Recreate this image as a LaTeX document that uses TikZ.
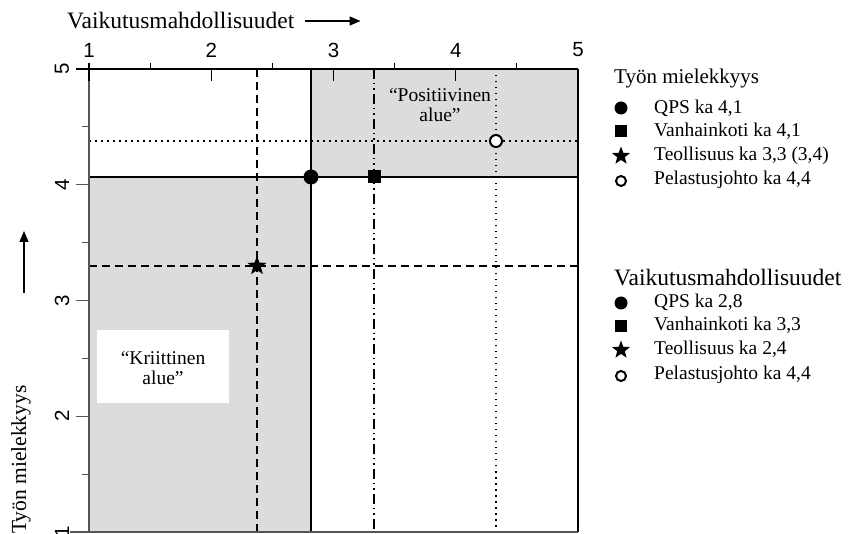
\documentclass[tikz,border=0pt]{standalone}
\usepackage{fontspec}
\setmainfont{Liberation Serif}
\newfontfamily\ticksans{Liberation Sans}
\usetikzlibrary{shapes.geometric,arrows.meta}

\definecolor{zonegray}{HTML}{DCDCDC}
\definecolor{axisgray}{HTML}{555555}

\begin{document}
\begin{tikzpicture}[x=1pt,y=-1pt,
  txt/.style={font=\fontsize{19.5}{22}\selectfont, inner sep=0pt},
  legtxt/.style={txt, anchor=west},
  headtxt/.style={font=\fontsize{21}{22}\selectfont, inner sep=0pt, anchor=west},
  widetxt/.style={font=\fontsize{23.5}{24}\selectfont, inner sep=0pt, anchor=west},
  ticklbl/.style={font=\ticksans\fontsize{20.5}{22}\selectfont, inner sep=0pt},
  gridline/.style={line width=1.3pt, black},
  dashline/.style={line width=1.8pt, dash pattern=on 8pt off 5pt},
  dashdotline/.style={line width=1.5pt, dash pattern=on 10pt off 4pt on 1.5pt off 4pt on 1.5pt off 4pt},
  dotline/.style={line width=1.5pt, dash pattern=on 1.5pt off 4.5pt},
  dotmark/.style={circle, fill=black, inner sep=0pt, minimum size=#1},
  sqmark/.style={rectangle, fill=black, inner sep=0pt, minimum size=#1},
  starmark/.style={star, star points=5, star point ratio=2.4, fill=black, inner sep=0pt, minimum size=#1},
  openmark/.style={circle, draw=black, line width=2pt, fill=white, inner sep=0pt, minimum size=#1},
  axisarrow/.style={line width=1.2pt, -{Triangle[length=11pt,width=9pt]}}
]
\path[use as bounding box] (0,0) rectangle (860,534);

% shaded zones
\fill[zonegray] (311,69) rectangle (578,177);
\fill[zonegray] (89,177) rectangle (311,532);
\fill[white] (97,330) rectangle (229,403);

% reference lines of the averages
\draw[gridline] (89,177) -- (578,177);
\draw[gridline] (311,69) -- (311,532);
\draw[dashline] (257,69) -- (257,532);
\draw[dashline] (89,266) -- (578,266);
\draw[dashdotline] (374,69) -- (374,532);
\draw[dotline] (89,141) -- (578,141);
\draw[dotline] (496,69) -- (496,532);

% frame
\draw[line width=1.3pt] (76,69) -- (578,69);
\draw[line width=1.3pt] (578,69) -- (578,532);
\draw[axisgray, line width=2pt] (89,63) -- (89,532);
\draw[axisgray, line width=2pt] (70,532) -- (578,532);

% top axis ticks
\foreach \v in {1,2,3,4} {
  \pgfmathsetmacro{\px}{89+(\v-1)*122.25}
  \draw[line width=1.3pt] (\px,69) -- (\px,81);
  \pgfmathsetmacro{\mx}{89+(\v-0.5)*122.25}
  \draw[line width=1pt] (\mx,63) -- (\mx,69);
}
\draw[line width=1.3pt] (89,63) -- (89,69);
% left axis ticks
\foreach \v in {2,3,4} {
  \pgfmathsetmacro{\py}{532-(\v-1)*115.75}
  \draw[axisgray, line width=1.3pt] (76,\py) -- (89,\py);
}
\foreach \v in {1,2,3,4} {
  \pgfmathsetmacro{\my}{532-(\v-0.5)*115.75}
  \draw[axisgray, line width=1pt] (82,\my) -- (89,\my);
}

% tick labels
\foreach \v in {1,...,5} {
  \pgfmathsetmacro{\px}{89+(\v-1)*122.25}
  \node[ticklbl] (tx\v) at (\px,50) {\v};
  \pgfmathsetmacro{\py}{532-(\v-1)*115.75}
  \node[ticklbl, rotate=90] (ty\v) at (62,\py) {\v};
}

% axis titles
\node[widetxt] (xtitle) at (67,21) {Vaikutusmahdollisuudet};
\coordinate (xa1) at ([xshift=10pt]xtitle.east);
\coordinate (xa2) at ([xshift=66pt]xtitle.east);
\draw[axisarrow] (xa1) -- (xa2);
\node[headtxt, rotate=90, font=\fontsize{21.5}{22}\selectfont] (ytitle) at (21,534) {Työn mielekkyys};
\coordinate (ya1) at (24,293);
\coordinate (ya2) at (24,231);
\draw[axisarrow] (ya1) -- (ya2);

% zone captions
\node[txt, align=center] (pos) at (440,105) {“Positiivinen\\[-2pt]alue”};
\node[txt, align=center] (krit) at (163,368) {“Kriittinen\\[-2pt]alue”};

% data points
\node[dotmark=15pt] (qps) at (311,177) {};
\node[sqmark=13pt] (vanh) at (374,177) {};
\node[starmark=20pt] (teol) at (257,266) {};
\node[openmark=12pt] (pel) at (496,141) {};

% legend: Työn mielekkyys
\node[headtxt] (h1) at (614,78) {Työn mielekkyys};
\node[dotmark=13pt] (l1a) at (621,108) {};
\node[legtxt] (t1a) at (654,108) {QPS ka 4,1};
\node[sqmark=12pt] (l1b) at (621,131) {};
\node[legtxt] (t1b) at (654,131) {Vanhainkoti ka 4,1};
\node[starmark=19pt] (l1c) at (621,156) {};
\node[legtxt] (t1c) at (654,156) {Teollisuus ka 3,3 (3,4)};
\node[openmark=10pt] (l1d) at (621,181) {};
\node[legtxt] (t1d) at (654,180) {Pelastusjohto ka 4,4};

% legend: Vaikutusmahdollisuudet
\node[widetxt] (h2) at (614,278) {Vaikutusmahdollisuudet};
\node[dotmark=13pt] (l2a) at (621,303) {};
\node[legtxt] (t2a) at (654,302) {QPS ka 2,8};
\node[sqmark=12pt] (l2b) at (621,326) {};
\node[legtxt] (t2b) at (654,325) {Vanhainkoti ka 3,3};
\node[starmark=19pt] (l2c) at (621,350) {};
\node[legtxt] (t2c) at (654,349) {Teollisuus ka 2,4};
\node[openmark=10pt] (l2d) at (621,376) {};
\node[legtxt] (t2d) at (654,375) {Pelastusjohto ka 4,4};
\end{tikzpicture}
\end{document}
